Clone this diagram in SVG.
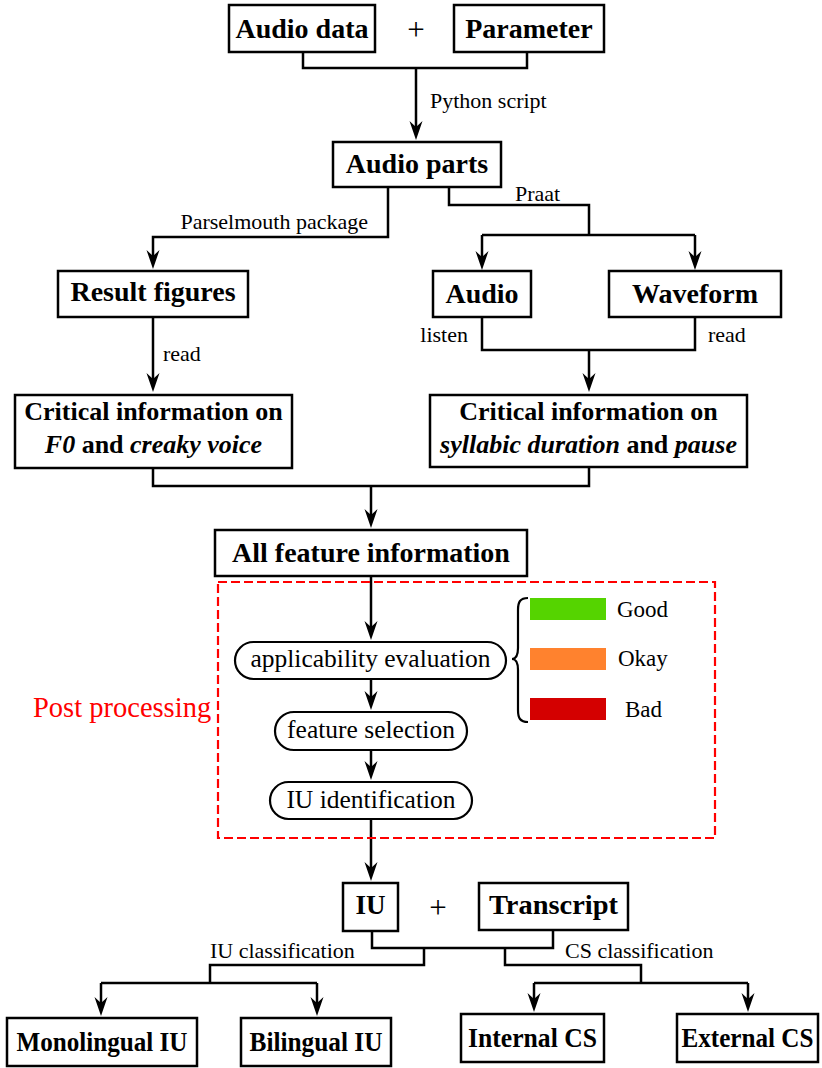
<svg xmlns="http://www.w3.org/2000/svg" width="822" height="1068" viewBox="0 0 822 1068">
  <style>
    .box { fill: #fff; stroke: #000; stroke-width: 2.5; }
    .pill { fill: #fff; stroke: #000; stroke-width: 2.2; }
    .b { font-family: "Liberation Serif", "Times New Roman", serif; font-weight: bold; font-size: 28px; text-anchor: middle; fill: #000; }
    .b26 { font-size: 26px; }
    .bc { font-size: 26.5px; }
    .r { font-family: "Liberation Serif", "Times New Roman", serif; font-size: 22px; fill: #000; }
    .p { font-family: "Liberation Serif", "Times New Roman", serif; font-size: 25.5px; text-anchor: middle; fill: #000; }
    .plus { font-family: "Liberation Serif", "Times New Roman", serif; font-size: 31px; text-anchor: middle; fill: #000; }
    .lg { font-family: "Liberation Serif", "Times New Roman", serif; font-size: 23px; fill: #000; }
    .wire { fill: none; stroke: #000; stroke-width: 2.5; }
    .arr { fill: none; stroke: #000; stroke-width: 2.5; marker-end: url(#head); }
  </style>
  <defs>
    <marker id="head" markerUnits="userSpaceOnUse" viewBox="-12 -9 22 18" markerWidth="22" markerHeight="18" refX="0" refY="0" orient="auto" overflow="visible">
      <path d="M9,0 L-10,-6.5 L-4,0 L-10,6.5 Z" fill="#000"/>
    </marker>
  </defs>

  <!-- connectors -->
  <g id="connectors">
    <path class="wire" d="M303,52 V68 H527 V52"/>
    <path class="arr" d="M416,68 V131"/>
    <path class="arr" d="M388,187 V237 H153 V260"/>
    <path class="wire" d="M449,187 V205 H589 V235"/>
    <path class="wire" d="M482,235 H695"/>
    <path class="arr" d="M482,235 V261"/>
    <path class="arr" d="M695,235 V261"/>
    <path class="arr" d="M153,317 V383"/>
    <path class="wire" d="M482,317 V350 H695 V317"/>
    <path class="arr" d="M589,350 V383"/>
    <path class="wire" d="M153,468 V486 H589 V467"/>
    <path class="arr" d="M371,486 V519"/>
    <path class="arr" d="M371,576 V631"/>
    <path class="arr" d="M371,679 V701"/>
    <path class="arr" d="M371,750 V771"/>
    <path class="arr" d="M371,819 V872"/>
    <path class="wire" d="M372,931 V948 H553 V930"/>
    <path class="wire" d="M424,948 V965 H210 V983"/>
    <path class="wire" d="M101,983 H317"/>
    <path class="arr" d="M101,983 V1007"/>
    <path class="arr" d="M317,983 V1007"/>
    <path class="wire" d="M505,948 V965 H641 V983"/>
    <path class="wire" d="M534,983 H748"/>
    <path class="arr" d="M534,983 V1003"/>
    <path class="arr" d="M748,983 V1003"/>
  </g>

  <!-- connector labels -->
  <g id="labels">
    <text class="r" x="430" y="108">Python script</text>
    <text class="r" x="368" y="229" text-anchor="end">Parselmouth package</text>
    <text class="r" x="515" y="201">Praat</text>
    <text class="r" x="163" y="361">read</text>
    <text class="r" x="468" y="342" text-anchor="end">listen</text>
    <text class="r" x="708" y="342">read</text>
    <text class="r" x="210" y="958">IU classification</text>
    <text class="r" x="565" y="958">CS classification</text>
    <text class="plus" x="416" y="40">+</text>
    <text class="plus" x="438" y="918">+</text>
  </g>

  <g id="audio-data">
    <rect class="box" x="229" y="5" width="146" height="47"/>
    <text class="b" x="302" y="38">Audio data</text>
  </g>
  <g id="parameter">
    <rect class="box" x="454" y="5" width="150" height="47"/>
    <text class="b" x="529" y="38">Parameter</text>
  </g>
  <g id="audio-parts">
    <rect class="box" x="333" y="142" width="168" height="45"/>
    <text class="b" x="417" y="173">Audio parts</text>
  </g>
  <g id="result-figures">
    <rect class="box" x="58" y="271" width="190" height="46"/>
    <text class="b" x="153" y="301">Result figures</text>
  </g>
  <g id="audio">
    <rect class="box" x="433" y="271" width="98" height="46"/>
    <text class="b" x="482" y="303">Audio</text>
  </g>
  <g id="waveform">
    <rect class="box" x="609" y="271" width="172" height="46"/>
    <text class="b" x="695" y="303">Waveform</text>
  </g>
  <g id="critical-f0">
    <rect class="box" x="15" y="395" width="277" height="73"/>
    <text class="b b26" x="153.5" y="420">Critical information on</text>
    <text class="b b26" x="153.5" y="453"><tspan font-style="italic">F0</tspan> and <tspan font-style="italic">creaky voice</tspan></text>
  </g>
  <g id="critical-duration">
    <rect class="box" x="430" y="395" width="317" height="72"/>
    <text class="b b26" x="588.5" y="420">Critical information on</text>
    <text class="b b26" x="588.5" y="453"><tspan font-style="italic">syllabic duration</tspan> and <tspan font-style="italic">pause</tspan></text>
  </g>
  <g id="all-features">
    <rect class="box" x="215" y="530" width="312" height="46"/>
    <text class="b" x="371" y="562">All feature information</text>
  </g>

  <g id="post-processing">
    <rect x="218" y="582" width="497" height="256" fill="none" stroke="#ff0000" stroke-width="2.2" stroke-dasharray="9 4"/>
    <text x="33" y="717" font-family="'Liberation Serif', 'Times New Roman', serif" font-size="28.5px" fill="#ff0000">Post processing</text>
  </g>
  <g id="applicability-evaluation">
    <rect class="pill" x="235" y="642" width="271" height="37" rx="18.5"/>
    <text class="p" x="370.5" y="667">applicability evaluation</text>
  </g>
  <g id="feature-selection">
    <rect class="pill" x="275" y="712" width="192" height="38" rx="19"/>
    <text class="p" x="371" y="738">feature selection</text>
  </g>
  <g id="iu-identification">
    <rect class="pill" x="270" y="782" width="202" height="37" rx="18.5"/>
    <text class="p" x="371" y="808">IU identification</text>
  </g>
  <g id="rating-legend">
    <path d="M528,598 C520,598 518,602 518,610 L518,648 C518,655 516,659 512,659 C516,659 518,663 518,670 L518,710 C518,718 520,722 528,722" fill="none" stroke="#000" stroke-width="2.2"/>
    <rect x="530" y="598" width="76" height="22" fill="#55d400"/>
    <rect x="530" y="648" width="76" height="22" fill="#ff822e"/>
    <rect x="530" y="698" width="76" height="22" fill="#d40000"/>
    <text class="lg" x="617" y="617">Good</text>
    <text class="lg" x="618" y="666">Okay</text>
    <text class="lg" x="625" y="717">Bad</text>
  </g>

  <g id="iu">
    <rect class="box" x="343" y="883" width="55" height="48"/>
    <text class="b bc" x="370.5" y="914" textLength="30" lengthAdjust="spacingAndGlyphs">IU</text>
  </g>
  <g id="transcript">
    <rect class="box" x="479" y="883" width="149" height="47"/>
    <text class="b bc" x="553.5" y="914" textLength="129" lengthAdjust="spacingAndGlyphs">Transcript</text>
  </g>
  <g id="monolingual-iu">
    <rect class="box" x="7" y="1018" width="190" height="48"/>
    <text class="b bc" x="102" y="1051" textLength="171" lengthAdjust="spacingAndGlyphs">Monolingual IU</text>
  </g>
  <g id="bilingual-iu">
    <rect class="box" x="241" y="1018" width="150" height="48"/>
    <text class="b bc" x="316" y="1051" textLength="133" lengthAdjust="spacingAndGlyphs">Bilingual IU</text>
  </g>
  <g id="internal-cs">
    <rect class="box" x="461" y="1014" width="143" height="48"/>
    <text class="b bc" x="532.5" y="1047" textLength="129" lengthAdjust="spacingAndGlyphs">Internal CS</text>
  </g>
  <g id="external-cs">
    <rect class="box" x="677" y="1014" width="141" height="48"/>
    <text class="b bc" x="747.5" y="1047" textLength="132" lengthAdjust="spacingAndGlyphs">External CS</text>
  </g>
</svg>
